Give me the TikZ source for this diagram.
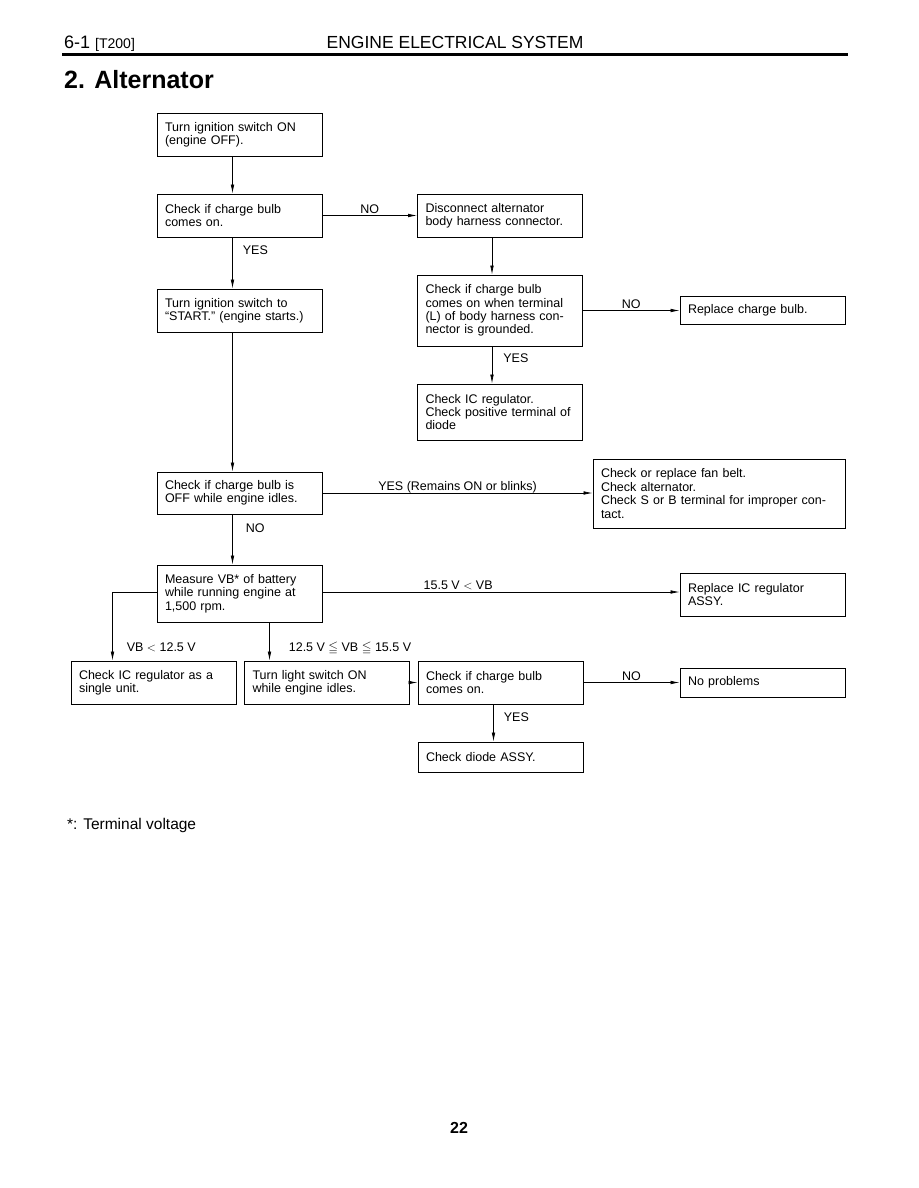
\documentclass[tikz,border=0pt]{standalone}
\usepackage{fontspec}
\setmainfont{Liberation Sans}
\usepackage{amssymb}
\usetikzlibrary{arrows.meta,positioning}

\begin{document}
\begin{tikzpicture}[x=1pt, y=-1pt, font=\fontsize{12.5}{13.4}\selectfont,
  box/.style={draw, line width=0.9pt, align=left, inner xsep=8pt, minimum width=165pt, text width=149pt},
  arr/.style={-{Latex[length=9pt,width=3.6pt]}, line width=0.7pt},
  lbl/.style={inner sep=2pt, text depth=0pt},
  page/.style={inner sep=0pt}]
\fill[white] (0,0) rectangle (918,1188);
\useasboundingbox (0,0) rectangle (918,1188);
\node[page, anchor=base west, font=\fontsize{18}{20}\selectfont] (sec) at (64,49) {6-1 {\fontsize{14}{16}\selectfont [T200]}};
\node[page, anchor=base, font=\fontsize{17.5}{20}\selectfont] (head) at (455,49) {ENGINE ELECTRICAL SYSTEM};
\draw[line width=3pt] (62,55) -- (848,55);
\node[page, anchor=base west, font=\fontsize{25}{28}\selectfont\bfseries] (title) at (64,89) {2. Alternator};
\node[box, minimum height=43pt] (on) at (239.5,134.5) {Turn ignition switch ON\\(engine OFF).};
\node[box, minimum height=43pt] (bulb) at (239.5,215.5) {Check if charge bulb\\comes on.};
\node[box, minimum height=43pt] (disc) at (500,215.5) {Disconnect alternator\\body harness connector.};
\node[box, minimum height=43pt] (start) at (239.5,310.5) {Turn ignition switch to\\“START.” (engine starts.)};
\node[box, minimum height=71pt] (ground) at (500,310.5) {Check if charge bulb\\comes on when terminal\\(L) of body harness con-\\nector is grounded.};
\node[box, minimum height=28pt] (repbulb) at (762.5,310) {Replace charge bulb.};
\node[box, minimum height=56pt] (icreg) at (500,412) {Check IC regulator.\\Check positive terminal of\\diode};
\node[box, minimum height=42pt] (idle) at (239.5,493) {Check if charge bulb is\\OFF while engine idles.};
\node[box, minimum width=252pt, text width=236pt, minimum height=69pt] (belt) at (719,493.5) {Check or replace fan belt.\\Check alternator.\\Check S or B terminal for improper con-\\tact.};
\node[box, minimum height=57pt] (vb) at (239.5,593.5) {Measure VB* of battery\\while running engine at\\1,500 rpm.};
\node[box, minimum height=43pt] (repic) at (762.5,594.5) {Replace IC regulator\\ASSY.};
\node[box, minimum height=43pt] (unit) at (153.5,682.5) {Check IC regulator as a\\single unit.};
\node[box, minimum height=43pt] (light) at (327,682.5) {Turn light switch ON\\while engine idles.};
\node[box, minimum height=43pt] (bulb2) at (500.5,682.5) {Check if charge bulb\\comes on.};
\node[box, minimum height=29pt] (ok) at (762.5,682.5) {No problems};
\node[box, minimum height=30pt] (diode) at (500.5,757) {Check diode ASSY.};
\node[page, anchor=base west, font=\fontsize{15.5}{18}\selectfont] (note) at (67,829) {*: Terminal voltage};
\node[page, anchor=base, font=\fontsize{16}{18}\selectfont\bfseries] (num) at (459,1133) {22};
\draw[arr] ([xshift=-7pt]on.south) -- ([xshift=-7pt]bulb.north);
\draw[arr] (bulb.east) -- node[lbl, above] {NO} (disc.west);
\draw[arr] ([xshift=-7pt]bulb.south) -- node[lbl, right=8pt, pos=0.25] {YES} ([xshift=-7pt]start.north);
\draw[arr] ([xshift=-8pt]disc.south) -- ([xshift=-8pt]ground.north);
\draw[arr] (ground.east) -- node[lbl, above] {NO} (ground.east -| repbulb.west);
\draw[arr] ([xshift=-8pt]ground.south) -- node[lbl, right=9pt, pos=0.32] {YES} ([xshift=-8pt]icreg.north);
\draw[arr] ([xshift=-7pt]start.south) -- ([xshift=-7pt]idle.north);
\draw[arr] (idle.east) -- node[lbl, above] {YES (Remains ON or blinks)} (idle.east -| belt.west);
\draw[arr] ([xshift=-7pt]idle.south) -- node[lbl, right=11pt, pos=0.27] {NO} ([xshift=-7pt]vb.north);
\draw[arr] ([yshift=1.5pt]vb.east) -- node[lbl, above, pos=0.38] {15.5 V $<$ VB} ([yshift=1.5pt]vb.east -| repic.west);
\draw[arr] ([yshift=1.5pt]vb.west) -| node[lbl, right=12pt, pos=0.9] {VB $<$ 12.5 V} ([xshift=-41pt]unit.north);
\draw[arr] ([xshift=30pt]vb.south) -- node[lbl, right=17pt, pos=0.64] {12.5 V \ensuremath{\leqq} VB \ensuremath{\leqq} 15.5 V} ([xshift=30pt]vb.south |- light.north);
\draw[arr] (light.east) -- (bulb2.west);
\draw[arr] (bulb2.east) -- node[lbl, above] {NO} (ok.west);
\draw[arr] ([xshift=-7pt]bulb2.south) -- node[lbl, right=8pt, pos=0.34] {YES} ([xshift=-7pt]diode.north);
\end{tikzpicture}
\end{document}
